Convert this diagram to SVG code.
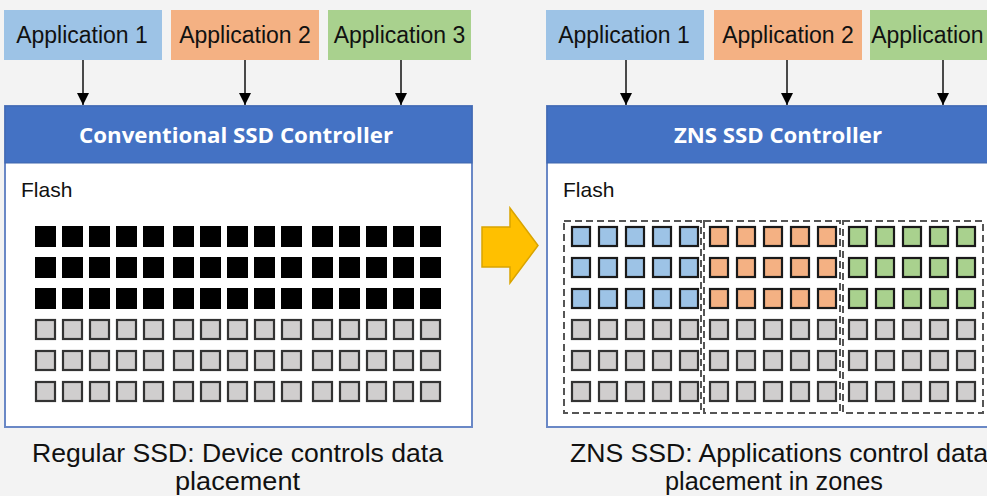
<svg xmlns="http://www.w3.org/2000/svg" width="987" height="496" viewBox="0 0 987 496">
<style>
.app{font-family:"Liberation Sans",Arial,sans-serif;font-size:23px;fill:#111;text-anchor:middle}
.hdr{font-family:"Open Sans","Liberation Sans",sans-serif;font-weight:bold;font-size:22px;fill:#fff;text-anchor:middle}
.fl{font-family:"Liberation Sans",Arial,sans-serif;font-size:21px;fill:#111}
.cap{font-family:"Liberation Sans",Arial,sans-serif;font-size:25px;fill:#111;text-anchor:middle}
.box{fill:#fff;stroke:#6a88c6;stroke-width:2}
.head{fill:#4472c4;stroke:#3f66ad;stroke-width:1}
.blk{fill:#000}
.g{fill:#d0cece;stroke:#333;stroke-width:2.2}
.b{fill:#9dc3e6;stroke:#1a1a1a;stroke-width:2.2}
.o{fill:#f4b183;stroke:#1a1a1a;stroke-width:2.2}
.gr{fill:#a9d18e;stroke:#1a1a1a;stroke-width:2.2}
.zone{fill:none;stroke:#555;stroke-width:2;stroke-dasharray:7 4}
.conn{stroke:#111;stroke-width:1.5;fill:none;marker-end:url(#ah)}
</style>
<defs>
<marker id="ah" viewBox="0 0 12 12" refX="12" refY="6" markerWidth="12" markerHeight="12" markerUnits="userSpaceOnUse" orient="auto">
<path d="M0,0 L12,6 L0,12 Z" fill="#000"/>
</marker>
<g id="blkrow">
<rect class="blk" x="35" y="0" width="21" height="21"/><rect class="blk" x="62" y="0" width="21" height="21"/><rect class="blk" x="89" y="0" width="21" height="21"/><rect class="blk" x="116" y="0" width="21" height="21"/><rect class="blk" x="143" y="0" width="21" height="21"/>
<rect class="blk" x="173" y="0" width="21" height="21"/><rect class="blk" x="200" y="0" width="21" height="21"/><rect class="blk" x="227" y="0" width="21" height="21"/><rect class="blk" x="254" y="0" width="21" height="21"/><rect class="blk" x="281" y="0" width="21" height="21"/>
<rect class="blk" x="312" y="0" width="21" height="21"/><rect class="blk" x="339" y="0" width="21" height="21"/><rect class="blk" x="366" y="0" width="21" height="21"/><rect class="blk" x="393" y="0" width="21" height="21"/><rect class="blk" x="420" y="0" width="21" height="21"/>
</g>
<g id="grayrowL">
<rect class="g" x="36" y="1" width="19" height="19"/><rect class="g" x="63" y="1" width="19" height="19"/><rect class="g" x="90" y="1" width="19" height="19"/><rect class="g" x="117" y="1" width="19" height="19"/><rect class="g" x="144" y="1" width="19" height="19"/>
<rect class="g" x="174" y="1" width="19" height="19"/><rect class="g" x="201" y="1" width="19" height="19"/><rect class="g" x="228" y="1" width="19" height="19"/><rect class="g" x="255" y="1" width="19" height="19"/><rect class="g" x="282" y="1" width="19" height="19"/>
<rect class="g" x="313" y="1" width="19" height="19"/><rect class="g" x="340" y="1" width="19" height="19"/><rect class="g" x="367" y="1" width="19" height="19"/><rect class="g" x="394" y="1" width="19" height="19"/><rect class="g" x="421" y="1" width="19" height="19"/>
</g>
<g id="colrowR">
<rect class="b" x="572" y="1" width="18" height="19"/><rect class="b" x="599" y="1" width="18" height="19"/><rect class="b" x="626" y="1" width="18" height="19"/><rect class="b" x="653" y="1" width="18" height="19"/><rect class="b" x="680" y="1" width="18" height="19"/>
<rect class="o" x="710" y="1" width="18" height="19"/><rect class="o" x="737" y="1" width="18" height="19"/><rect class="o" x="764" y="1" width="18" height="19"/><rect class="o" x="791" y="1" width="18" height="19"/><rect class="o" x="818" y="1" width="18" height="19"/>
<rect class="gr" x="849" y="1" width="18" height="19"/><rect class="gr" x="876" y="1" width="18" height="19"/><rect class="gr" x="903" y="1" width="18" height="19"/><rect class="gr" x="930" y="1" width="18" height="19"/><rect class="gr" x="957" y="1" width="18" height="19"/>
</g>
<g id="grayrowR">
<rect class="g" x="572" y="1" width="18" height="19"/><rect class="g" x="599" y="1" width="18" height="19"/><rect class="g" x="626" y="1" width="18" height="19"/><rect class="g" x="653" y="1" width="18" height="19"/><rect class="g" x="680" y="1" width="18" height="19"/>
<rect class="g" x="710" y="1" width="18" height="19"/><rect class="g" x="737" y="1" width="18" height="19"/><rect class="g" x="764" y="1" width="18" height="19"/><rect class="g" x="791" y="1" width="18" height="19"/><rect class="g" x="818" y="1" width="18" height="19"/>
<rect class="g" x="849" y="1" width="18" height="19"/><rect class="g" x="876" y="1" width="18" height="19"/><rect class="g" x="903" y="1" width="18" height="19"/><rect class="g" x="930" y="1" width="18" height="19"/><rect class="g" x="957" y="1" width="18" height="19"/>
</g>
</defs>
<rect width="987" height="496" fill="#f3f3f3"/>

<!-- Left: Regular SSD -->
<g id="l-app1"><rect x="4" y="10" width="158" height="50" fill="#9dc3e6"/><text class="app" x="82" y="43">Application 1</text></g>
<g id="l-app2"><rect x="171" y="10" width="148" height="50" fill="#f4b183"/><text class="app" x="245" y="43">Application 2</text></g>
<g id="l-app3"><rect x="328" y="10" width="143" height="50" fill="#a9d18e"/><text class="app" x="399.5" y="43">Application 3</text></g>

<g id="l-controller">
<rect class="box" x="5" y="106" width="467" height="321"/>
<rect class="head" x="5" y="106" width="467" height="57"/>
<text class="hdr" x="236" y="143" textLength="314" lengthAdjust="spacingAndGlyphs">Conventional SSD Controller</text>
<text class="fl" x="21" y="197">Flash</text>
<use href="#blkrow" y="226"/>
<use href="#blkrow" y="257"/>
<use href="#blkrow" y="288"/>
<use href="#grayrowL" y="319"/>
<use href="#grayrowL" y="350"/>
<use href="#grayrowL" y="381"/>
</g>

<!-- Right: ZNS SSD -->
<g id="r-app1"><rect x="546" y="10" width="158" height="50" fill="#9dc3e6"/><text class="app" x="624" y="43">Application 1</text></g>
<g id="r-app2"><rect x="714" y="10" width="148" height="50" fill="#f4b183"/><text class="app" x="788" y="43">Application 2</text></g>
<g id="r-app3"><rect x="870" y="10" width="143" height="50" fill="#a9d18e"/><text class="app" x="937" y="43">Application 3</text></g>

<g id="r-controller">
<rect class="box" x="547" y="106" width="470" height="321"/>
<rect class="head" x="547" y="106" width="470" height="57"/>
<text class="hdr" x="778" y="143" textLength="208" lengthAdjust="spacingAndGlyphs">ZNS SSD Controller</text>
<text class="fl" x="563" y="197">Flash</text>
<use href="#colrowR" y="226"/>
<use href="#colrowR" y="257"/>
<use href="#colrowR" y="288"/>
<use href="#grayrowR" y="319"/>
<use href="#grayrowR" y="350"/>
<use href="#grayrowR" y="381"/>
</g>
<g id="zones">
<rect class="zone" x="564" y="221" width="137" height="192"/>
<rect class="zone" x="704" y="221" width="136" height="192"/>
<rect class="zone" x="843" y="221" width="140" height="192"/>
</g>

<g id="transition">
<polygon points="482,227 510,227 510,208 538,245.5 510,283 510,267 482,267" fill="#ffc000" stroke="#d9a400" stroke-width="1.5"/>
</g>

<g id="connectors">
<line class="conn" x1="83" y1="60" x2="83" y2="105"/>
<line class="conn" x1="245" y1="60" x2="245" y2="105"/>
<line class="conn" x1="401" y1="60" x2="401" y2="105"/>
<line class="conn" x1="626" y1="60" x2="626" y2="105"/>
<line class="conn" x1="787" y1="60" x2="787" y2="105"/>
<line class="conn" x1="943" y1="60" x2="943" y2="105"/>
</g>

<g id="captions">
<text class="cap" x="237.5" y="462" textLength="411" lengthAdjust="spacingAndGlyphs">Regular SSD: Device controls data</text>
<text class="cap" x="237.5" y="490" textLength="125" lengthAdjust="spacingAndGlyphs">placement</text>
<text class="cap" x="779" y="462" textLength="418" lengthAdjust="spacingAndGlyphs">ZNS SSD: Applications control data</text>
<text class="cap" x="774" y="490" textLength="218" lengthAdjust="spacingAndGlyphs">placement in zones</text>
</g>
</svg>
